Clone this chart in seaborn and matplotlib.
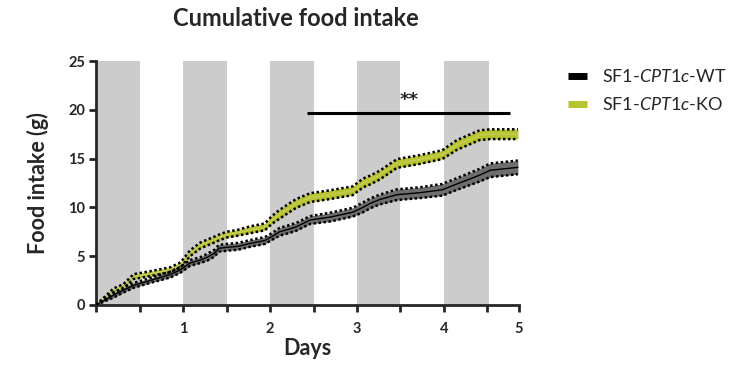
import numpy as np
import pandas as pd
import matplotlib
matplotlib.use("Agg")
import matplotlib.pyplot as plt
from matplotlib.lines import Line2D
import seaborn as sns

# --- Data ---
days = [0, 0.2, 0.31, 0.43, 0.62, 0.85, 0.97, 1.08, 1.2, 1.28, 1.36, 1.41, 1.5,
        1.63, 1.77, 1.94, 2.02, 2.11, 2.23, 2.3, 2.46, 2.69, 2.95, 3.07, 3.15,
        3.26, 3.46, 3.72, 3.98, 4.15, 4.41, 4.53, 4.85]
ko_mean = [0, 1.5, 1.9, 2.9, 3.2, 3.6, 4.1, 5.3, 6.1, 6.4, 6.7, 6.9, 7.2,
           7.4, 7.7, 8.0, 8.7, 9.3, 10.0, 10.4, 11.0, 11.3, 11.7, 12.5, 12.8,
           13.3, 14.5, 14.9, 15.4, 16.4, 17.4, 17.5, 17.5]
ko_sem = [0, 0.2, 0.2, 0.25, 0.25, 0.25, 0.25, 0.3, 0.3, 0.3, 0.3, 0.3, 0.3,
          0.3, 0.35, 0.35, 0.4, 0.45, 0.45, 0.45, 0.45, 0.45, 0.45, 0.45, 0.45,
          0.45, 0.45, 0.45, 0.45, 0.5, 0.5, 0.5, 0.5]
wt_mean = [0, 1.0, 1.5, 2.0, 2.5, 3.1, 3.6, 4.3, 4.6, 4.9, 5.3, 5.8, 5.9,
           6.0, 6.3, 6.6, 7.0, 7.5, 7.8, 8.0, 8.7, 9.0, 9.5, 10.0, 10.4,
           10.8, 11.3, 11.5, 11.8, 12.4, 13.3, 13.8, 14.1]
wt_sem = [0, 0.25, 0.25, 0.25, 0.25, 0.3, 0.3, 0.3, 0.3, 0.35, 0.35, 0.35, 0.35,
          0.35, 0.35, 0.35, 0.35, 0.4, 0.4, 0.4, 0.4, 0.45, 0.45, 0.5, 0.5,
          0.5, 0.55, 0.55, 0.6, 0.6, 0.65, 0.7, 0.7]

dark_phases = [(0, 0.5), (1, 1.5), (2, 2.5), (3, 3.5), (4, 4.52)]
xtick_pos = [0, 0.5, 1, 1.5, 2, 2.5, 3, 3.5, 4, 4.5, 4.86]
xtick_labels = ['', '', '1', '', '2', '', '3', '', '4', '', '5']
ytick_pos = [0, 5, 10, 15, 20, 25]
sig_span = (2.43, 4.76)
sig_y = 19.7

labels = [r"SF1-$\mathit{CPT1c}$-WT", r"SF1-$\mathit{CPT1c}$-KO"]
KO_COLOR = '#b6c42e'
KO_LINE = '#c9c95a'
WT_FILL = '#6e6e6e'

# --- Style ---
sns.set_theme(style="ticks")
plt.rcParams['font.family'] = ['Lato', 'DejaVu Sans']
plt.rcParams['mathtext.fontset'] = 'custom'
plt.rcParams['mathtext.rm'] = 'Lato'
plt.rcParams['mathtext.it'] = 'Lato:italic'

fig = plt.figure(figsize=(7.4, 3.7), dpi=100)
ax = fig.add_axes([0.13, 0.176, 0.571, 0.659])

# dark phases
for start, end in dark_phases:
    ax.axvspan(start, end, ymin=0, ymax=1, color='#cccccc', lw=0, zorder=0)

df = pd.DataFrame({'day': days, 'ko': ko_mean, 'ko_sem': ko_sem,
                   'wt': wt_mean, 'wt_sem': wt_sem})

dot_style = dict(color='black', linewidth=1.8, linestyle=(0, (1, 1)), zorder=4)

# KO band
ax.fill_between(df['day'], df['ko'] - df['ko_sem'], df['ko'] + df['ko_sem'],
                color=KO_COLOR, lw=0, zorder=2)
ax.plot(df['day'], df['ko'] - df['ko_sem'], **dot_style)
ax.plot(df['day'], df['ko'] + df['ko_sem'], **dot_style)
sns.lineplot(data=df, x='day', y='ko', ax=ax, color=KO_LINE, linewidth=1,
             zorder=3)

# WT band
ax.fill_between(df['day'], df['wt'] - df['wt_sem'], df['wt'] + df['wt_sem'],
                color=WT_FILL, lw=0, zorder=2)
ax.plot(df['day'], df['wt'] - df['wt_sem'], **dot_style)
ax.plot(df['day'], df['wt'] + df['wt_sem'], **dot_style)
sns.lineplot(data=df, x='day', y='wt', ax=ax, color='black', linewidth=1,
             zorder=3)

# significance bar
ax.plot(sig_span, [sig_y, sig_y], color='black', lw=2.2, solid_capstyle='butt',
        zorder=5)
ax.text(np.mean(sig_span), sig_y + 0.4, '**', ha='center', va='bottom',
        fontsize=13, fontweight='bold', family='DejaVu Sans')

# axes
ax.set_xlim(0, xtick_pos[-1])
ax.set_ylim(0, 25)
ax.set_xticks(xtick_pos)
ax.set_xticklabels(xtick_labels)
ax.set_yticks(ytick_pos)
ax.set_yticklabels([str(v) for v in ytick_pos])
sns.despine(ax=ax)
for side in ['left', 'bottom']:
    ax.spines[side].set_linewidth(2)
ax.tick_params(axis='both', width=2, length=5, direction='out',
               labelsize=10.5, pad=3)
for lab in ax.get_xticklabels() + ax.get_yticklabels():
    lab.set_fontweight('bold')
ax.tick_params(axis='x', pad=7)
ax.set_xlabel('Days', fontsize=15.5, fontweight='bold', labelpad=2)
ax.set_ylabel('Food intake (g)', fontsize=15.5, fontweight='bold', labelpad=14)

fig.text(0.40, 0.95, 'Cumulative food intake', ha='center', va='center',
         fontsize=17, fontweight='bold')

handles = [Line2D([], [], color='black', lw=5, solid_capstyle='butt'),
           Line2D([], [], color=KO_COLOR, lw=5, solid_capstyle='butt')]
fig.legend(handles, labels, loc='upper left', bbox_to_anchor=(0.745, 0.86),
           frameon=False, fontsize=13, handlelength=1.1, handletextpad=0.8,
           labelspacing=0.6)

fig.savefig('out.png', dpi=100)
